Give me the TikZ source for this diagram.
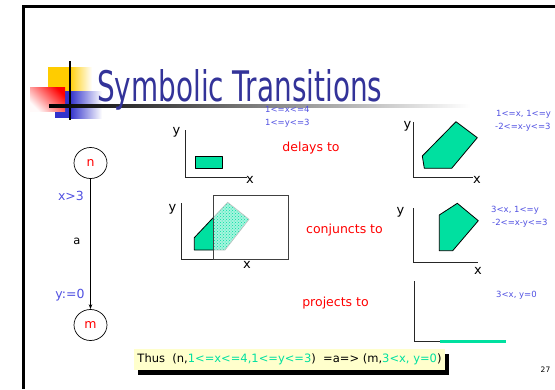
\documentclass[tikz,border=0pt]{standalone}
\usepackage{fontspec}
\setmainfont{DejaVu Sans}
\usetikzlibrary{patterns,arrows.meta,shapes.geometric,shadows}
\definecolor{titleblue}{RGB}{51,51,153}
\definecolor{lblue}{RGB}{80,80,225}
\definecolor{grn}{RGB}{0,224,160}
\definecolor{logoyellow}{RGB}{255,204,0}
\definecolor{logoblue}{RGB}{51,51,204}
\definecolor{notebg}{RGB}{255,255,204}
\newcommand\fsz[1]{\fontsize{#1}{#1}\selectfont}
\tikzset{
  axisline/.style={draw=black!85, line width=1pt},
  region/.style={fill=grn, draw=black, line width=0.8pt, line join=round},
  axlbl/.style={inner sep=0pt, font=\fsz{13}},
  cond/.style={inner sep=0pt, anchor=base west, text=lblue, font=\fsz{8.5}},
  guard/.style={inner sep=0pt, text=lblue, font=\fsz{12.5}},
  verb/.style={inner sep=0pt, text=red, font=\fsz{12.5}},
  loc/.style={ellipse, draw=black, line width=0.7pt, minimum width=33pt, minimum height=31pt,
              inner sep=0pt, text=red, font=\fsz{12.5}},
  notebox/.style={fill=notebg, inner sep=0pt, minimum width=311pt, minimum height=21pt,
              font=\fsz{11.5},
              drop shadow={fill=black, opacity=1, shadow xshift=4pt, shadow yshift=-5pt}}
}
\begin{document}
\begin{tikzpicture}[x=1pt,y=-1pt]
\useasboundingbox (0,0) rectangle (555,389);

% slide frame
\fill[black] (22,5) rectangle (555,7.5);
\fill[black] (22,5) rectangle (24.5,389);

% logo squares
\fill[logoyellow] (48,67) rectangle (69,91);
\shade[left color=logoyellow, right color=white] (69,67) rectangle (92,91);
\fill[logoblue] (55,91) rectangle (70,118);
\shade[left color=logoblue, right color=white] (70,91) rectangle (102,118);
\shade[top color=red, middle color=red!45, bottom color=red!2, shading angle=-45] (30,87) rectangle (65,111);
\draw[line width=1.3pt] (70,61) -- (70,120);
\shade[left color=black, right color=white] (49,104.7) rectangle (470,107.3);

% title (depth dropped so the descender does not push the box down)
\node[anchor=base west, inner sep=0pt, text=titleblue] (title) at (97,101)
  {\raisebox{0pt}[\height][0pt]{\resizebox{285pt}{32pt}{\fsz{40}Symbolic Transitions}}};

% automaton
\node[loc] (n) at (90.5,163) {n};
\node[loc] (m) at (90.5,325) {m};
\draw[line width=0.7pt, -{Stealth[length=5pt,width=3.5pt]}] (n) -- (m);
\node[guard] (g) at (71,195.5) {x>3};
\node[inner sep=0pt, font=\fsz{11.5}] (act) at (77,241) {a};
\node[guard] (r) at (70,295) {y:=0};

% initial zone
\draw[axisline] (185,130) -- (185,177) -- (247,177);
\filldraw[region] (195,156) rectangle (222,168);
\node[axlbl] (y1) at (176.5,132) {y};
\node[axlbl] (x1) at (250,180) {x};
\node[cond] (c1) at (265,112.8) {1<=x<=4};
\node[cond] (c2) at (265,125) {1<=y<=3};
\node[verb] (delays) at (311,148.5) {delays to};

% delayed zone
\draw[axisline] (413.3,122) -- (413.3,177.3) -- (473,177.3);
\filldraw[region] (422.3,156) -- (456,121.7) -- (477.3,137.7) -- (451.7,168.3) -- (424.3,168.3) -- cycle;
\node[axlbl] (y2) at (407.5,126) {y};
\node[axlbl] (x2) at (477,180) {x};
\node[cond] (c3) at (496,116.5) {1<=x, 1<=y};
\node[cond] (c4) at (495,129) {-2<=x-y<=3};

% conjunction with the guard
\draw[axisline] (181,203) -- (181,259) -- (213,259);
\fill[white] (213,195) rectangle (288,259);
\begin{scope}
  \clip (150,190) rectangle (213,262);
  \filldraw[region] (194.3,237.7) -- (227.7,202.3) -- (249,219.3) -- (225,250) -- (194.3,250) -- cycle;
\end{scope}
\begin{scope}
  \clip (213,190) rectangle (290,262);
  \fill[grn!35] (194.3,237.7) -- (227.7,202.3) -- (249,219.3) -- (225,250) -- (194.3,250) -- cycle;
  \fill[pattern=crosshatch dots, pattern color=grn] (194.3,237.7) -- (227.7,202.3) -- (249,219.3) -- (225,250) -- (194.3,250) -- cycle;
  \draw[black!25, line width=0.6pt] (194.3,237.7) -- (227.7,202.3) -- (249,219.3) -- (225,250) -- (194.3,250) -- cycle;
\end{scope}
\draw[draw=black!75, line width=0.8pt] (213,195) rectangle (288,259);
\node[axlbl] (y3) at (172.5,209) {y};
\node[axlbl] (x3) at (247,265) {x};
\node[verb] (conj) at (344.5,230.5) {conjuncts to};

% conjoined zone
\draw[axisline] (413.3,208.3) -- (413.3,262.7) -- (478.3,262.7);
\filldraw[region] (439.3,215) -- (457.3,203.3) -- (478.3,220.7) -- (452.7,250.7) -- (439.3,250.7) -- cycle;
\node[axlbl] (y4) at (400.5,212) {y};
\node[axlbl] (x4) at (478,271) {x};
\node[cond] (c5) at (491,212.5) {3<x, 1<=y};
\node[cond] (c6) at (492,225) {-2<=x-y<=3};

% projection after reset
\node[verb] (proj) at (335.5,303.5) {projects to};
\draw[axisline] (414,281) -- (414,341) -- (440,341);
\draw[grn, line width=3pt] (440,341) -- (506,341);
\node[cond] (c7) at (496,297) {3<x, y=0};

% conclusion
\node[notebox] (thus) at (289.5,359.5)
  {Thus\ \ (n,\textcolor{grn}{1<=x<=4,1<=y<=3})\ \ =a=> (m,\textcolor{grn}{3<x, y=0})};

% slide number
\node[inner sep=0pt, font=\fsz{7.5}] (num) at (545.5,370) {27};
\end{tikzpicture}
\end{document}
